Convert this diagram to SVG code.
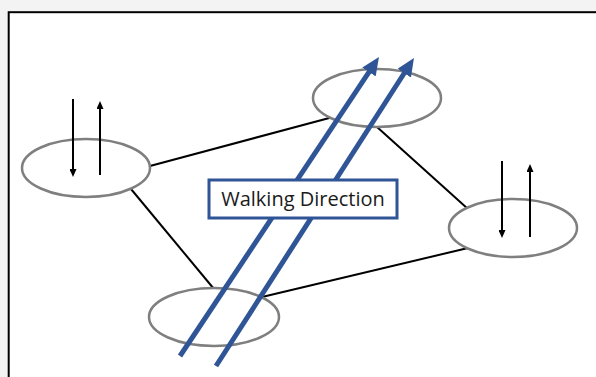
<svg xmlns="http://www.w3.org/2000/svg" width="596" height="377" viewBox="0 0 596 377">
  <style>
    .node { fill: #ffffff; stroke: #7f7f7f; stroke-width: 2.5; }
    .link { stroke: #000000; stroke-width: 2; fill: none; }
    .flow { stroke: #000000; stroke-width: 2; fill: none; marker-end: url(#tip-small); }
    .walk { stroke: #2f5597; stroke-width: 5; fill: none; marker-end: url(#tip-big); }
    .label-box { fill: #ffffff; stroke: #2f5597; stroke-width: 3; }
    .label-text { font-family: "Open Sans", "Liberation Sans", sans-serif; font-size: 20px; fill: #1a1a1a; }
  </style>
  <defs>
    <marker id="tip-small" viewBox="0 0 8 7" refX="1" refY="3.5" markerWidth="8" markerHeight="7" markerUnits="userSpaceOnUse" orient="auto">
      <path d="M0,0 L8,3.5 L0,7 z" fill="#000000"/>
    </marker>
    <marker id="tip-big" viewBox="0 0 18 16" refX="2" refY="8" markerWidth="18" markerHeight="16" markerUnits="userSpaceOnUse" orient="auto">
      <path d="M0,0 L18,8 L0,16 z" fill="#2f5597"/>
    </marker>
  </defs>

  <!-- page background and frame -->
  <rect x="0" y="0" width="596" height="377" fill="#f3f3f3"/>
  <rect x="8.7" y="12.2" width="600" height="380" fill="#ffffff" stroke="#000000" stroke-width="2"/>

  <!-- links between the stops -->
  <g id="connectors">
    <line class="link" x1="150" y1="166" x2="333" y2="117"/>
    <line class="link" x1="131" y1="189" x2="214" y2="289"/>
    <line class="link" x1="377" y1="127" x2="468" y2="209"/>
    <line class="link" x1="262" y1="297" x2="468" y2="248"/>
  </g>

  <g id="node-left">
    <ellipse class="node" cx="86" cy="168" rx="64" ry="29"/>
    <line class="flow" x1="73" y1="99" x2="73" y2="170"/>
    <line class="flow" x1="100" y1="175" x2="100" y2="108"/>
  </g>

  <g id="node-top">
    <ellipse class="node" cx="377" cy="98" rx="64" ry="29"/>
  </g>

  <g id="node-right">
    <ellipse class="node" cx="513" cy="228" rx="64" ry="29"/>
    <line class="flow" x1="502" y1="161" x2="502" y2="231"/>
    <line class="flow" x1="530" y1="237" x2="530" y2="171"/>
  </g>

  <g id="node-bottom">
    <ellipse class="node" cx="214" cy="317" rx="65" ry="29"/>
  </g>

  <!-- walking direction arrows -->
  <g id="walk-arrows">
    <line class="walk" x1="180" y1="356" x2="370.1" y2="70.3"/>
    <line class="walk" x1="216" y1="366" x2="405.3" y2="71.5"/>
  </g>

  <g id="label">
    <rect class="label-box" x="209" y="180" width="188" height="38"/>
    <text class="label-text" x="303" y="206" text-anchor="middle">Walking Direction</text>
  </g>
</svg>
